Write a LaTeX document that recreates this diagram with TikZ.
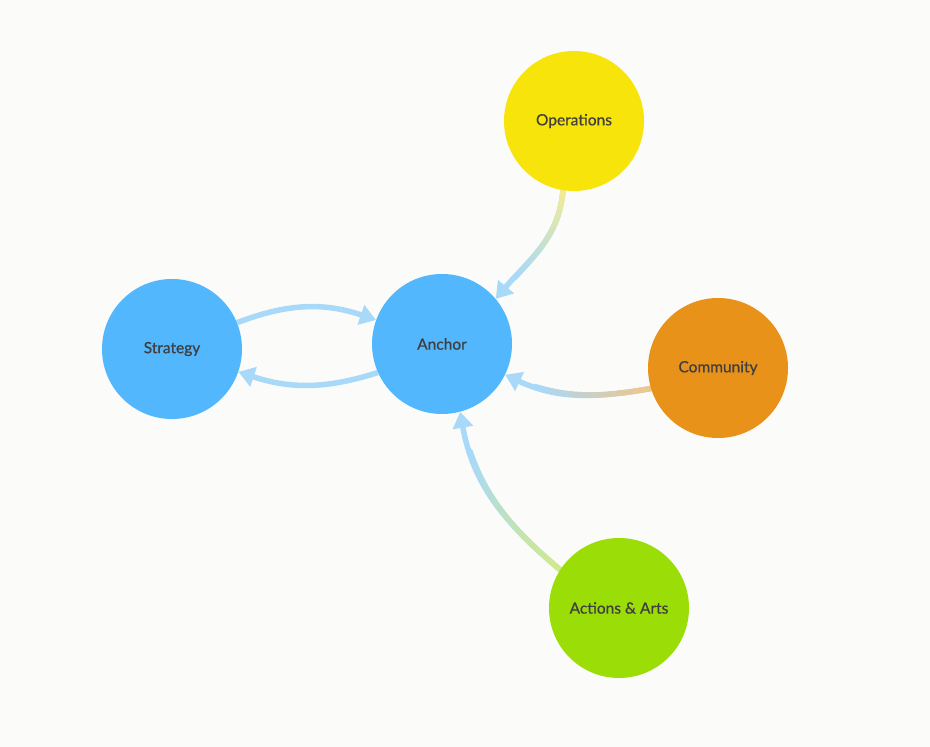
\documentclass[tikz,border=0pt]{standalone}
\usepackage{fontspec}
\newfontfamily\bubfont{Lato}[FakeBold=0.6]
\usepackage{xcolor}
\usetikzlibrary{arrows.meta}
\definecolor{paper}{HTML}{FBFBF9}
\definecolor{txtgray}{HTML}{3F3F3F}
\definecolor{blueball}{HTML}{52B7FC}
\definecolor{yellowball}{HTML}{F7E40A}
\definecolor{orangeball}{HTML}{E8921A}
\definecolor{greenball}{HTML}{9BDD07}
\definecolor{linkblue}{HTML}{A9D9F9}
\definecolor{opspale}{HTML}{F1EC94}
\definecolor{commpale}{HTML}{EFC68C}
\definecolor{actspale}{HTML}{D0EA8A}
\pgfdeclarelayer{back}
\pgfsetlayers{back,main}

\begin{document}
\begin{tikzpicture}[x=1pt, y=1pt,
    bub/.style={circle, minimum size=140pt, inner sep=0pt, font=\bubfont\fontsize{15.5}{18}\selectfont, text=txtgray},
    link/.style={line width=5.5pt, draw=linkblue, -{Triangle[length=16pt,width=20pt]}},
    fade/.style={line width=5.5pt, line cap=round},
]
\node[bub, fill=blueball] (anc) at (442,403) {Anchor};
\node[bub, fill=blueball] (strat) at (172,398) {Strategy};
\node[bub, fill=yellowball] (ops) at (574,626) {Operations};
\node[bub, fill=orangeball] (comm) at (718,379) {Community};
\node[bub, fill=greenball] (acts) at (619,139) {Actions \& Arts};

\begin{pgfonlayer}{back}
\fill[paper] (0,0) rectangle (930,747);

\draw[link] (strat.22) to[bend left=20] (anc.160);
\draw[link] (anc.204) to[bend left=18] (strat.341);
\draw[link] (ops.261) to[out=265, in=50] (anc.40);
\draw[link] (comm.197) to[out=190, in=-25] (anc.334);
\draw[link] (acts.147) to[out=140, in=280] (anc.285);

% colour fade from the source bubble
\foreach \src/\from/\to/\oa/\ia/\pale in {ops/261/40/265/50/opspale, comm/197/334/190/-25/commpale, acts/147/285/140/280/actspale} {
  \foreach \i [evaluate=\i as \t using \i/30] in {0,...,24}
    \path (\src.\from) to[out=\oa, in=\ia] coordinate[pos=\t] (g\i) (anc.\to);
  \foreach \i [count=\j] in {0,...,23} {
    \pgfmathtruncatemacro\m{100*\i/23}
    \draw[fade, draw=linkblue!\m!\pale] (g\i) -- (g\j);
  }
}
\end{pgfonlayer}
\end{tikzpicture}
\end{document}
